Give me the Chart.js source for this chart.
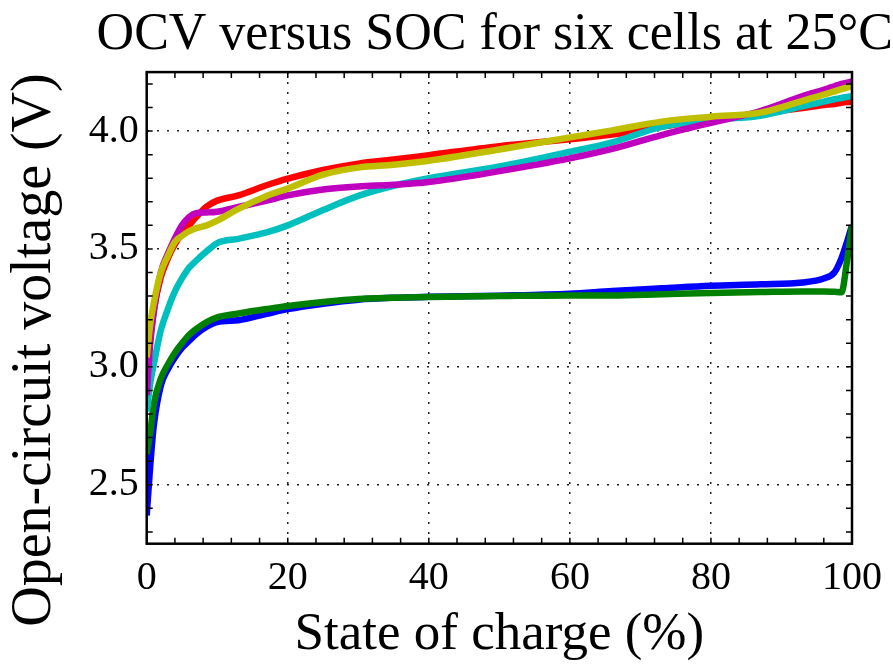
<!DOCTYPE html>
<html>
<head>
<meta charset="utf-8">
<script src="https://cdn.jsdelivr.net/npm/chart.js@4/dist/chart.umd.min.js"></script>
<style>
  html, body { margin: 0; padding: 0; background: #fff; }
  #ocvChart { display: block; }
</style>
</head>
<body>
<canvas id="ocvChart" width="893" height="669"></canvas>
<script>
// SOC breakpoints (%) shared by all six cells
const soc = [0, 0.5, 1, 2, 3, 4, 5, 6, 7, 8.5, 10, 13, 17, 20, 25, 30, 35, 40, 50, 60, 66, 73, 80, 87, 93, 96, 97.5, 98.5, 99.3, 100];

// OCV (V)
const ocvBlue    = [2.37, 2.58, 2.75, 2.92, 2.99, 3.04, 3.08, 3.11, 3.138, 3.17, 3.19, 3.198, 3.225, 3.245, 3.268, 3.285, 3.293, 3.297, 3.302, 3.31, 3.322, 3.333, 3.344, 3.35, 3.358, 3.375, 3.40, 3.46, 3.53, 3.60];
const ocvGreen   = [2.63, 2.72, 2.84, 2.95, 3.01, 3.06, 3.10, 3.135, 3.16, 3.19, 3.21, 3.226, 3.245, 3.258, 3.275, 3.288, 3.293, 3.296, 3.30, 3.303, 3.303, 3.308, 3.313, 3.317, 3.32, 3.32, 3.318, 3.316, 3.45, 3.60];
const ocvRed     = [2.95, 3.12, 3.24, 3.38, 3.46, 3.52, 3.565, 3.60, 3.635, 3.68, 3.705, 3.727, 3.77, 3.798, 3.835, 3.862, 3.879, 3.898, 3.936, 3.965, 3.985, 4.018, 4.05, 4.075, 4.098, 4.11, 4.115, 4.12, 4.123, 4.125];
const ocvCyan    = [2.81, 2.93, 3.01, 3.155, 3.245, 3.32, 3.375, 3.42, 3.45, 3.49, 3.525, 3.543, 3.57, 3.60, 3.665, 3.725, 3.768, 3.80, 3.85, 3.912, 3.952, 4.018, 4.047, 4.065, 4.105, 4.125, 4.135, 4.14, 4.145, 4.148];
const ocvMagenta = [2.88, 3.10, 3.23, 3.40, 3.48, 3.545, 3.60, 3.635, 3.652, 3.655, 3.658, 3.678, 3.705, 3.727, 3.752, 3.765, 3.772, 3.784, 3.83, 3.884, 3.924, 3.983, 4.035, 4.085, 4.148, 4.175, 4.19, 4.20, 4.205, 4.21];
const ocvYellow  = [3.04, 3.18, 3.27, 3.40, 3.47, 3.53, 3.555, 3.575, 3.588, 3.60, 3.62, 3.67, 3.725, 3.756, 3.815, 3.845, 3.857, 3.874, 3.922, 3.973, 4.003, 4.04, 4.061, 4.078, 4.128, 4.155, 4.168, 4.178, 4.184, 4.19];

const xTicks = [0, 20, 40, 60, 80, 100];
const yTicks = [2.5, 3.0, 3.5, 4.0];

const serif = '"Liberation Serif", "Times New Roman", serif';

function series(vals, color, order) {
    return {
        data: soc.map((s, i) => ({ x: s, y: vals[i] })),
        borderColor: color,
        borderWidth: 6.5,
        pointRadius: 0,
        fill: false,
        cubicInterpolationMode: 'monotone',
        order: order
    };
}

// box and inward minor/major ticks like the original figure
const frameTicks = {
    id: 'frameTicks',
    afterDraw(chart) {
        const { ctx, chartArea: a, scales: { x, y } } = chart;
        const len = 6;
        ctx.save();
        ctx.strokeStyle = '#000';
        ctx.lineWidth = 1.5;
        ctx.beginPath();
        for (let v = 0; v <= 100; v += 4) {
            const px = x.getPixelForValue(v);
            ctx.moveTo(px, a.bottom); ctx.lineTo(px, a.bottom - len);
            ctx.moveTo(px, a.top); ctx.lineTo(px, a.top + len);
        }
        for (let k = 23; k <= 42; k++) {
            const py = y.getPixelForValue(k / 10);
            ctx.moveTo(a.left, py); ctx.lineTo(a.left + len, py);
            ctx.moveTo(a.right, py); ctx.lineTo(a.right - len, py);
        }
        ctx.stroke();
        ctx.lineWidth = 2.5;
        ctx.strokeRect(a.left, a.top, a.right - a.left, a.bottom - a.top);

        // y-axis title, placed a bit lower than the axis centre as in the figure
        ctx.translate(35, 350);
        ctx.rotate(-Math.PI / 2);
        ctx.fillStyle = '#000';
        ctx.font = '56px ' + serif;
        ctx.textAlign = 'center';
        ctx.textBaseline = 'middle';
        ctx.fillText('Open-circuit voltage (V)', 0, 0);
        ctx.restore();
    }
};

const ctx = document.getElementById('ocvChart').getContext('2d');

new Chart(ctx, {
    type: 'line',
    data: {
        datasets: [
            series(ocvBlue, 'rgb(0, 0, 255)', 6),
            series(ocvGreen, 'rgb(0, 128, 0)', 5),
            series(ocvRed, 'rgb(255, 0, 0)', 4),
            series(ocvCyan, 'rgb(0, 191, 191)', 3),
            series(ocvMagenta, 'rgb(191, 0, 191)', 2),
            series(ocvYellow, 'rgb(191, 191, 0)', 1)
        ]
    },
    options: {
        responsive: false,
        devicePixelRatio: 1,
        animation: false,
        layout: { padding: 0 },
        scales: {
            x: {
                type: 'linear',
                min: 0,
                max: 100,
                afterBuildTicks: (s) => { s.ticks = xTicks.map(v => ({ value: v })); },
                afterFit: (s) => { s.height = 125.3; },
                grid: { color: '#222', lineWidth: 1.5, drawTicks: false },
                border: { display: false, dash: [2, 8] },
                ticks: {
                    color: '#000',
                    padding: 11,
                    maxRotation: 0,
                    font: { family: serif, size: 40 }
                },
                title: {
                    display: true,
                    text: 'State of charge (%)',
                    color: '#000',
                    padding: { top: 0, bottom: 2 },
                    font: { family: serif, size: 53 }
                }
            },
            y: {
                type: 'linear',
                min: 2.25,
                max: 4.25,
                afterBuildTicks: (s) => { s.ticks = yTicks.map(v => ({ value: v })); },
                afterFit: (s) => { s.width = 146.7; },
                grid: { color: '#222', lineWidth: 1.5, drawTicks: false },
                border: { display: false, dash: [2, 8] },
                ticks: {
                    color: '#000',
                    padding: 8,
                    callback: (v) => Number(v).toFixed(1),
                    font: { family: serif, size: 40 }
                }
            },
            yRight: {
                type: 'linear',
                position: 'right',
                display: true,
                min: 2.25,
                max: 4.25,
                afterFit: (s) => { s.width = 35.5; },
                grid: { display: false, drawTicks: false },
                border: { display: false },
                ticks: { display: false }
            }
        },
        plugins: {
            legend: { display: false },
            tooltip: { enabled: false },
            title: {
                display: true,
                text: 'OCV versus SOC for six cells at 25°C',
                align: 'end',
                color: '#000',
                padding: { top: 4, bottom: 5.7 },
                font: { family: serif, size: 52, weight: 'normal' }
            }
        }
    },
    plugins: [frameTicks]
});
</script>
</body>
</html>
